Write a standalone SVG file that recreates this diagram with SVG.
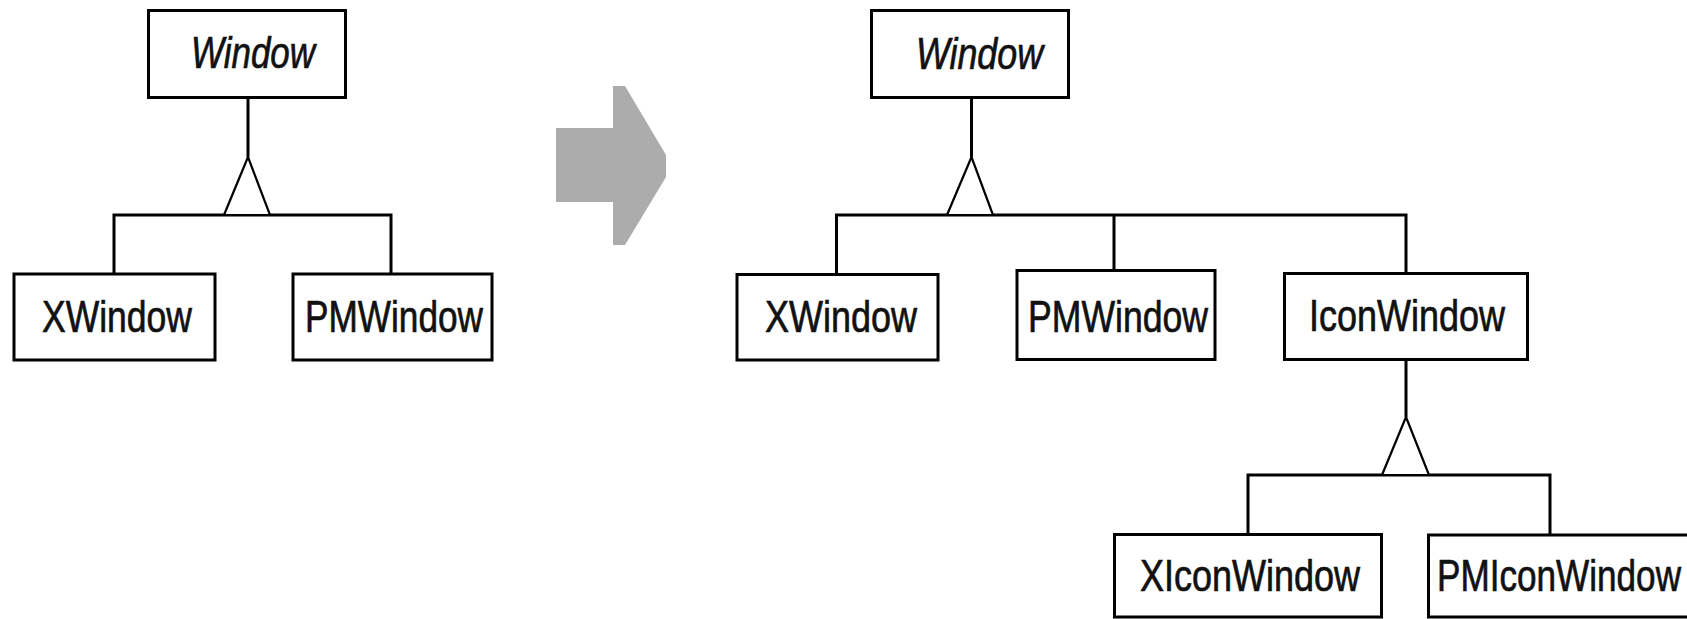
<svg xmlns="http://www.w3.org/2000/svg" width="1687" height="619" viewBox="0 0 1687 619">
<style>
.box{fill:#fff;stroke:#000;stroke-width:3}
.lbl{font-family:"Liberation Sans",Arial,sans-serif;font-size:45px;fill:#111;stroke:#111;stroke-width:0.7}
.abs{font-style:italic}
.ln{stroke:#000;stroke-width:3;fill:none}
.tri{stroke:#000;stroke-width:2.2;fill:#fff;stroke-linejoin:miter}
</style>
<rect width="1687" height="619" fill="#fff"/>
<g id="connectors">
  <path class="ln" d="M248,99V157M114,274V215H391V274"/>
  <polygon class="tri" points="248,157 224,215 270,215"/>
  <path class="ln" d="M971.5,99V157M836.5,274V215H1406V273M1114,215V270"/>
  <polygon class="tri" points="971.5,157 947,215 993,215"/>
  <path class="ln" d="M1406,361V417M1248,534V475H1550V534"/>
  <polygon class="tri" points="1406,417 1382,475 1429,475"/>
</g>
<g id="transform-arrow">
  <polygon fill="#acacac" points="556,128 613,128 613,86 625,86 666,155 666,177 625,245 613,245 613,202 556,202"/>
</g>
<g id="left-window">
  <rect class="box" x="148.5" y="10.5" width="197" height="87"/>
  <text class="lbl abs" x="191" y="68" textLength="124" lengthAdjust="spacingAndGlyphs">Window</text>
</g>
<g id="left-xwindow">
  <rect class="box" x="14" y="274" width="201" height="86"/>
  <text class="lbl" x="42" y="332" textLength="150" lengthAdjust="spacingAndGlyphs">XWindow</text>
</g>
<g id="left-pmwindow">
  <rect class="box" x="293" y="274" width="199" height="86"/>
  <text class="lbl" x="305" y="332" textLength="178" lengthAdjust="spacingAndGlyphs">PMWindow</text>
</g>
<g id="right-window">
  <rect class="box" x="871.5" y="10.5" width="197" height="87"/>
  <text class="lbl abs" x="916" y="69" textLength="127" lengthAdjust="spacingAndGlyphs">Window</text>
</g>
<g id="right-xwindow">
  <rect class="box" x="737" y="274.5" width="201" height="85.5"/>
  <text class="lbl" x="765" y="332" textLength="152" lengthAdjust="spacingAndGlyphs">XWindow</text>
</g>
<g id="right-pmwindow">
  <rect class="box" x="1017" y="270.5" width="198" height="89"/>
  <text class="lbl" x="1028" y="332" textLength="180" lengthAdjust="spacingAndGlyphs">PMWindow</text>
</g>
<g id="iconwindow">
  <rect class="box" x="1284.5" y="273.5" width="243" height="86"/>
  <text class="lbl" x="1309" y="331" textLength="196" lengthAdjust="spacingAndGlyphs">IconWindow</text>
</g>
<g id="xiconwindow">
  <rect class="box" x="1114.5" y="534.5" width="267" height="82.5"/>
  <text class="lbl" x="1140" y="591" textLength="220" lengthAdjust="spacingAndGlyphs">XIconWindow</text>
</g>
<g id="pmiconwindow">
  <rect class="box" x="1428.5" y="535" width="300" height="82"/>
  <text class="lbl" x="1437" y="591" textLength="244" lengthAdjust="spacingAndGlyphs">PMIconWindow</text>
</g>
</svg>
